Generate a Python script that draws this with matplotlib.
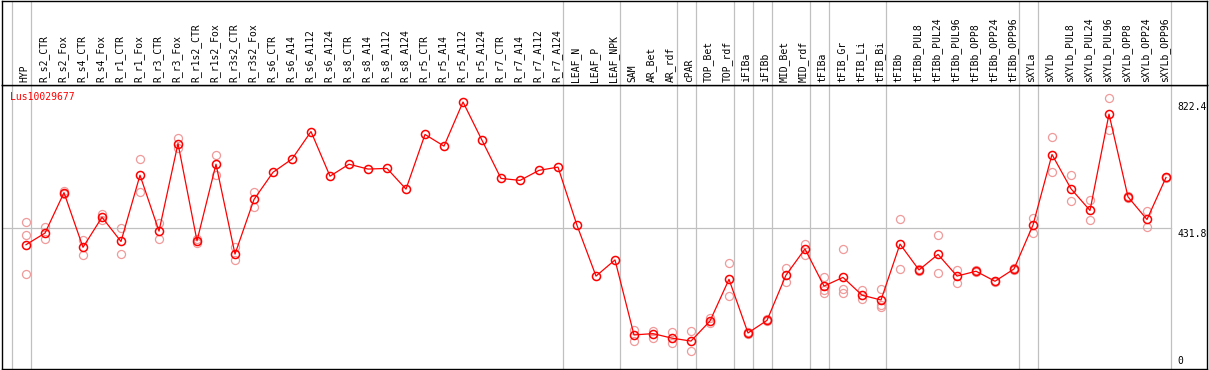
#!/usr/bin/env python
"""
plot.py - expression profile of Lus10029677 across tissues / treatments

Mean value per sample (dark red, joined) with the individual
replicates drawn behind it in light red. Sample names run along the top.
"""

import numpy as np
import matplotlib
matplotlib.use("Agg")
import matplotlib.pyplot as plt

GENE = "Lus10029677"

samples = [
    "HYP", "R_s2_CTR", "R_s2_Fox", "R_s4_CTR", "R_s4_Fox", "R_r1_CTR", "R_r1_Fox",
    "R_r3_CTR", "R_r3_Fox", "R_r1s2_CTR", "R_r1s2_Fox", "R_r3s2_CTR", "R_r3s2_Fox",
    "R_s6_CTR", "R_s6_A14", "R_s6_A112", "R_s6_A124",
    "R_s8_CTR", "R_s8_A14", "R_s8_A112", "R_s8_A124",
    "R_r5_CTR", "R_r5_A14", "R_r5_A112", "R_r5_A124",
    "R_r7_CTR", "R_r7_A14", "R_r7_A112", "R_r7_A124",
    "LEAF_N", "LEAF_P", "LEAF_NPK", "SAM", "AR_Bet", "AR_rdf", "cPAR",
    "TOP_Bet", "TOP_rdf", "iFIBa", "iFIBb", "MID_Bet", "MID_rdf",
    "tFIBa", "tFIB_Gr", "tFIB_Li", "tFIB_Bi", "tFIBb",
    "tFIBb_PUL8", "tFIBb_PUL24", "tFIBb_PUL96", "tFIBb_OPP8", "tFIBb_OPP24", "tFIBb_OPP96",
    "sXYLa", "sXYLb", "sXYLb_PUL8", "sXYLb_PUL24", "sXYLb_PUL96",
    "sXYLb_OPP8", "sXYLb_OPP24", "sXYLb_OPP96",
]

# mean expression per sample
means = [
    381, 417, 542, 373, 466, 391, 596, 423, 694, 393, 630, 352, 521,
    605, 646, 731, 593, 630, 615, 617, 553, 722, 686, 822.4, 704,
    586, 580, 611, 621, 441, 284, 334, 102, 106, 92, 83,
    145, 274, 108, 147, 287, 368, 253, 280, 225, 210, 383,
    303, 351, 284, 299, 268, 306, 442, 660, 554, 487, 785, 529, 459, 589,
]

# individual replicates (empty where they sit under the mean marker)
replicates = [
    [450, 411, 289], [437, 398], [547, 537], [395, 348], [475, 457], [432, 351], [645, 545],
    [449, 400], [710, 680], [398, 385], [660, 596], [373, 333], [545, 497],
    [], [], [], [], [], [], [], [], [], [], [], [],
    [], [], [], [], [], [], [], [117, 83], [115, 92], [111, 76], [113, 52],
    [153, 138], [323, 221], [110, 106], [150, 145], [309, 267], [383, 350],
    [281, 240, 232], [368, 243, 232], [242, 212], [243, 194, 189], [459, 306],
    [305, 301], [410, 292], [304, 263], [302, 296], [270, 266], [308, 304],
    [464, 416], [713, 605], [596, 515], [519, 456], [834, 735], [533, 526], [485, 435], [591, 586],
]

# samples after which a grey group separator is drawn (-1 = before the first)
group_ends = [-1, 0, 28, 31, 34, 35, 37, 38, 39, 41, 42, 45, 52, 53, 60]

# right-hand value labels
value_ticks = [822.4, 431.8, 0]

MEAN_COLOR = "#ff0000"
REP_COLOR = "#f09a9a"
GRID_COLOR = "#c0c0c0"
MONO = "DejaVu Sans Mono"


def main() -> None:
    W, H = 1209, 370
    fig = plt.figure(figsize=(W / 100, H / 100), dpi=100)

    left, right = 2 / W, 1207 / W
    split = 1 - 85 / H
    ax = fig.add_axes([left, 1 / H, right - left, split - 1 / H])
    ax_lab = fig.add_axes([left, split, right - left, 1 - split - 0.5 / H], sharex=ax)

    x = np.arange(len(samples))

    # group separators run through both the label strip and the plot
    for a in (ax, ax_lab):
        for g in group_ends:
            a.axvline(g + 0.25, color=GRID_COLOR, lw=0.9, zorder=0)
    ax.plot([-1.3, group_ends[-1] + 0.25], [value_ticks[1]] * 2,
            color=GRID_COLOR, lw=0.9, zorder=0)

    # replicates
    for i, reps in enumerate(replicates):
        ax.plot([i] * len(reps), reps, ls="none", marker="o", ms=5.8,
                mfc="none", mec=REP_COLOR, mew=0.9, zorder=2)

    # means
    ax.plot(x, means, color=MEAN_COLOR, lw=0.9, marker="o", ms=5.8,
            mfc="none", mec=MEAN_COLOR, mew=1.1, zorder=3)

    ax.set_xlim(-24 / 19, (1207 - 26) / 19)
    ax.set_ylim(-3.4, 875)

    # value labels at the right edge
    for v in value_ticks:
        va = "bottom" if v == 0 else "top"
        ax.text(60.62, v + (6 if v == 0 else -1), f"{v:g}" if v == 0 else f"{v:.1f}",
                ha="left", va=va, fontsize=7, family=MONO)

    ax.text(0.007, 0.975, GENE, transform=ax.transAxes, color=MEAN_COLOR,
            ha="left", va="top", fontsize=7, family=MONO)

    # sample names, rotated, sitting on the divider line
    for i, name in enumerate(samples):
        ax_lab.text(i - 0.08, 0.03, name, rotation=90, ha="center", va="bottom",
                    fontsize=7, family=MONO, transform=ax_lab.get_xaxis_transform())

    for a in (ax, ax_lab):
        a.set_xticks([])
        a.set_yticks([])
        for s in a.spines.values():
            s.set_linewidth(1.0)
            s.set_color("black")

    fig.savefig("out.png", dpi=100)


if __name__ == "__main__":
    main()
